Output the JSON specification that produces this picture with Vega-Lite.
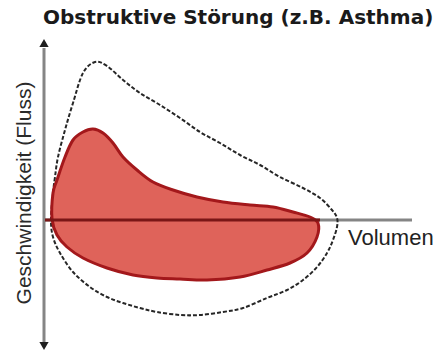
{
  "$schema": "https://vega.github.io/schema/vega-lite/v6.json",
  "width": 435,
  "height": 352,
  "padding": 0,
  "autosize": {"type": "none"},
  "background": "white",
  "config": {"view": {"stroke": null}},
  "datasets": {
    "normal": [
      {"i": 0, "volumen": 0.14, "fluss": 0},
      {"i": 1, "volumen": 0.18, "fluss": 1.35},
      {"i": 2, "volumen": 0.22, "fluss": 2.15},
      {"i": 3, "volumen": 0.28, "fluss": 3.15},
      {"i": 4, "volumen": 0.42, "fluss": 4.5},
      {"i": 5, "volumen": 0.58, "fluss": 5.85},
      {"i": 6, "volumen": 0.78, "fluss": 7.35},
      {"i": 7, "volumen": 1.02, "fluss": 7.9},
      {"i": 8, "volumen": 1.26, "fluss": 7.7},
      {"i": 9, "volumen": 1.58, "fluss": 7.0},
      {"i": 10, "volumen": 1.92, "fluss": 6.35},
      {"i": 11, "volumen": 2.32, "fluss": 5.75},
      {"i": 12, "volumen": 2.72, "fluss": 5.1},
      {"i": 13, "volumen": 3.12, "fluss": 4.4},
      {"i": 14, "volumen": 3.52, "fluss": 3.85},
      {"i": 15, "volumen": 3.92, "fluss": 3.25},
      {"i": 16, "volumen": 4.32, "fluss": 2.75},
      {"i": 17, "volumen": 4.72, "fluss": 2.15},
      {"i": 18, "volumen": 5.18, "fluss": 1.6},
      {"i": 19, "volumen": 5.52, "fluss": 1.1},
      {"i": 20, "volumen": 5.76, "fluss": 0.5},
      {"i": 21, "volumen": 5.86, "fluss": 0.1},
      {"i": 22, "volumen": 5.86, "fluss": -0.35},
      {"i": 23, "volumen": 5.78, "fluss": -1.0},
      {"i": 24, "volumen": 5.66, "fluss": -1.65},
      {"i": 25, "volumen": 5.46, "fluss": -2.35},
      {"i": 26, "volumen": 5.18, "fluss": -3.0},
      {"i": 27, "volumen": 4.86, "fluss": -3.5},
      {"i": 28, "volumen": 4.46, "fluss": -3.9},
      {"i": 29, "volumen": 3.98, "fluss": -4.4},
      {"i": 30, "volumen": 3.58, "fluss": -4.6},
      {"i": 31, "volumen": 3.12, "fluss": -4.75},
      {"i": 32, "volumen": 2.72, "fluss": -4.75},
      {"i": 33, "volumen": 2.26, "fluss": -4.6},
      {"i": 34, "volumen": 1.92, "fluss": -4.4},
      {"i": 35, "volumen": 1.58, "fluss": -4.15},
      {"i": 36, "volumen": 1.26, "fluss": -3.85},
      {"i": 37, "volumen": 0.92, "fluss": -3.35},
      {"i": 38, "volumen": 0.58, "fluss": -2.6},
      {"i": 39, "volumen": 0.32, "fluss": -1.65},
      {"i": 40, "volumen": 0.18, "fluss": -0.85}
    ],
    "obstruktiv": [
      {"i": 0, "volumen": 0.16, "fluss": 0.05},
      {"i": 1, "volumen": 0.18, "fluss": 1.35},
      {"i": 2, "volumen": 0.26, "fluss": 2.0},
      {"i": 3, "volumen": 0.42, "fluss": 3.15},
      {"i": 4, "volumen": 0.58, "fluss": 4.0},
      {"i": 5, "volumen": 0.78, "fluss": 4.4},
      {"i": 6, "volumen": 0.98, "fluss": 4.55},
      {"i": 7, "volumen": 1.18, "fluss": 4.35},
      {"i": 8, "volumen": 1.38, "fluss": 3.85},
      {"i": 9, "volumen": 1.58, "fluss": 3.15},
      {"i": 10, "volumen": 1.86, "fluss": 2.5},
      {"i": 11, "volumen": 2.18, "fluss": 1.9},
      {"i": 12, "volumen": 2.58, "fluss": 1.5},
      {"i": 13, "volumen": 3.06, "fluss": 1.15},
      {"i": 14, "volumen": 3.58, "fluss": 0.9},
      {"i": 15, "volumen": 4.12, "fluss": 0.75},
      {"i": 16, "volumen": 4.58, "fluss": 0.65},
      {"i": 17, "volumen": 4.98, "fluss": 0.4},
      {"i": 18, "volumen": 5.32, "fluss": 0.15},
      {"i": 19, "volumen": 5.48, "fluss": -0.15},
      {"i": 20, "volumen": 5.46, "fluss": -0.85},
      {"i": 21, "volumen": 5.26, "fluss": -1.65},
      {"i": 22, "volumen": 4.92, "fluss": -2.15},
      {"i": 23, "volumen": 4.46, "fluss": -2.5},
      {"i": 24, "volumen": 3.92, "fluss": -2.85},
      {"i": 25, "volumen": 3.26, "fluss": -3.0},
      {"i": 26, "volumen": 2.72, "fluss": -2.95},
      {"i": 27, "volumen": 2.26, "fluss": -2.9},
      {"i": 28, "volumen": 1.78, "fluss": -2.75},
      {"i": 29, "volumen": 1.26, "fluss": -2.4},
      {"i": 30, "volumen": 0.78, "fluss": -1.9},
      {"i": 31, "volumen": 0.46, "fluss": -1.35},
      {"i": 32, "volumen": 0.26, "fluss": -0.75}
    ],
    "achsen": [
      {"achse": "Fluss", "volumen": 0, "volumen2": 0, "fluss": 8.6, "fluss2": -6.1},
      {"achse": "Volumen", "volumen": 0, "volumen2": 7.36, "fluss": 0, "fluss2": 0}
    ],
    "pfeile": [
      {"richtung": "oben", "volumen": 0, "fluss": 8.85},
      {"richtung": "unten", "volumen": 0, "fluss": -6.3}
    ],
    "nulllinie": [
      {"volumen": 0.02, "volumen2": 5.52, "fluss": 0}
    ],
    "beschriftung": [
      {"rolle": "titel", "text": "Obstruktive Störung (z.B. Asthma)", "volumen": -0.02, "fluss": 9.8},
      {"rolle": "x", "text": "Volumen", "volumen": 6.08, "fluss": -1.25},
      {"rolle": "y", "text": "Geschwindigkeit (Fluss)", "volumen": -0.26, "fluss": 1.35}
    ]
  },
  "encoding": {
    "x": {"field": "volumen", "type": "quantitative", "scale": {"domain": [-0.88, 7.82], "nice": false, "zero": false}, "axis": null},
    "y": {"field": "fluss", "type": "quantitative", "scale": {"domain": [-6.6, 11], "nice": false, "zero": false}, "axis": null}
  },
  "layer": [
    {
      "data": {"name": "achsen"},
      "mark": {"type": "rule", "color": "#858585", "strokeWidth": 3},
      "encoding": {
        "x2": {"field": "volumen2"},
        "y2": {"field": "fluss2"}
      }
    },
    {
      "data": {"name": "normal"},
      "mark": {"type": "line", "interpolate": "cardinal-closed", "color": "#262626", "strokeWidth": 2, "strokeDash": [4, 2]},
      "encoding": {"order": {"field": "i"}}
    },
    {
      "data": {"name": "obstruktiv"},
      "mark": {"type": "line", "interpolate": "cardinal-closed", "fill": "#df635a", "stroke": "#a3181b", "strokeWidth": 3},
      "encoding": {"order": {"field": "i"}}
    },
    {
      "data": {"name": "nulllinie"},
      "mark": {"type": "rule", "color": "#7a1616", "strokeWidth": 3},
      "encoding": {"x2": {"field": "volumen2"}}
    },
    {
      "data": {"name": "pfeile"},
      "mark": {"type": "point", "filled": true, "color": "#1e1e1e", "size": 85, "opacity": 1},
      "encoding": {
        "shape": {"field": "richtung", "type": "nominal", "scale": {"domain": ["oben", "unten"], "range": ["triangle-up", "triangle-down"]}, "legend": null}
      }
    },
    {
      "data": {"name": "beschriftung"},
      "transform": [{"filter": "datum.rolle === 'titel'"}],
      "mark": {"type": "text", "font": "DejaVu Sans", "fontWeight": "bold", "fontSize": 20, "align": "left", "baseline": "alphabetic", "color": "#1a1a1a"},
      "encoding": {"text": {"field": "text"}}
    },
    {
      "data": {"name": "beschriftung"},
      "transform": [{"filter": "datum.rolle === 'x'"}],
      "mark": {"type": "text", "font": "Liberation Sans", "fontSize": 22, "align": "left", "baseline": "alphabetic", "color": "#222222"},
      "encoding": {"text": {"field": "text"}}
    },
    {
      "data": {"name": "beschriftung"},
      "transform": [{"filter": "datum.rolle === 'y'"}],
      "mark": {"type": "text", "font": "Liberation Sans", "fontSize": 21, "angle": 270, "align": "center", "baseline": "alphabetic", "color": "#2a2a2a"},
      "encoding": {"text": {"field": "text"}}
    }
  ]
}
